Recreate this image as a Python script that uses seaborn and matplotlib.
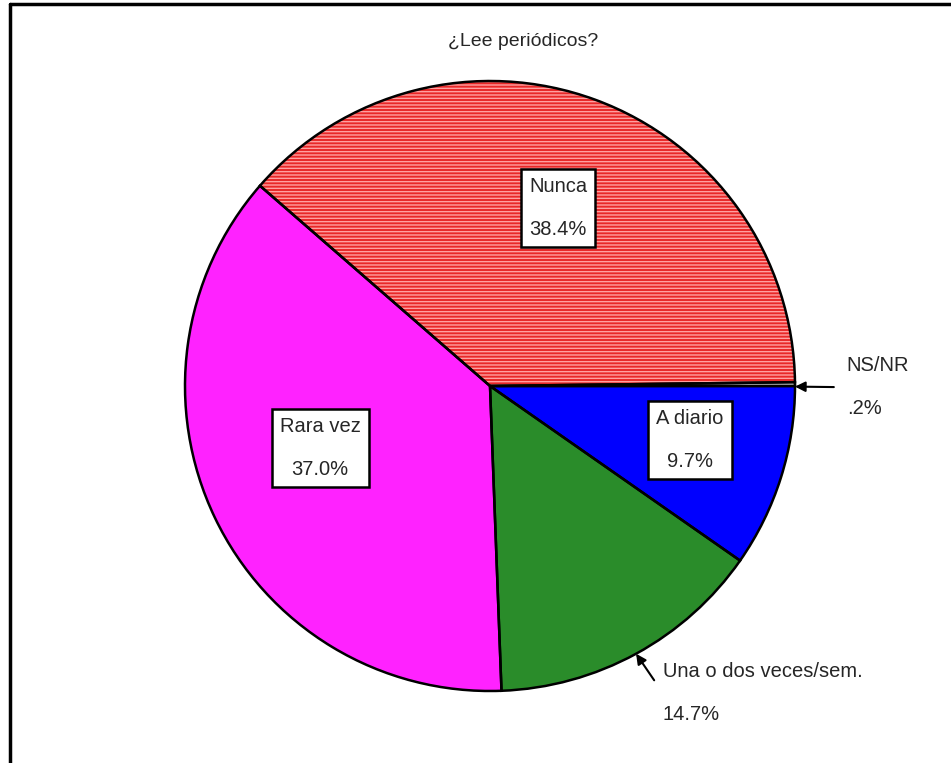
import numpy as np
import matplotlib
matplotlib.use("Agg")
import matplotlib.pyplot as plt
import seaborn as sns

categorias = ["A diario", "Una o dos veces/sem.", "Rara vez", "Nunca", "NS/NR"]
porcentajes = [9.7, 14.7, 37.0, 38.4, 0.2]
colores = ["#0000ff", "#2a8c2a", "#ff22ff", "#e82828", "#ffffff"]
titulo = "¿Lee periódicos?"

sns.set_style("white")
plt.rcParams['font.family'] = ['Liberation Sans', 'DejaVu Sans']

fig = plt.figure(figsize=(9.51, 7.63), dpi=100)
# pie centred at (490, 386) px, radius 305 px
ax = fig.add_axes([185 / 951, 72 / 763, 610 / 951, 610 / 763])

wedges, _ = ax.pie(porcentajes, colors=colores, startangle=0, counterclock=False,
                   radius=1, wedgeprops=dict(linewidth=0))
# Nunca: rayado horizontal
wedges[3].set_hatch("-----")
wedges[3].set_edgecolor("#ffa0a0")
wedges[3].set_linewidth(0)

# contornos negros
ax.pie(porcentajes, colors=["none"] * len(porcentajes), startangle=0, counterclock=False,
       radius=1, wedgeprops=dict(linewidth=1.8, edgecolor="black"))

ax.set_xlim(-1, 1)
ax.set_ylim(-1, 1)

def etiqueta(i):
    v = porcentajes[i]
    txt = f"{v:.1f}%"
    if v < 1:
        txt = txt.lstrip("0")
    return categorias[i] + "\n" + txt

def angulo_medio(w):
    return np.deg2rad((w.theta1 + w.theta2) / 2)

# etiquetas dentro de cajas
cajas = {3: (0.223, 0.584), 2: (-0.557, -0.203), 0: (0.656, -0.177)}
for i, (x, y) in cajas.items():
    ax.text(x, y, etiqueta(i), ha="center", va="center", fontsize=14.5, linespacing=2.6,
            bbox=dict(boxstyle="square,pad=0.4", facecolor="white", edgecolor="black", linewidth=1.8))

# etiquetas con flecha
flechas = {4: (1.170, -0.004), 1: (0.567, -1.007)}
for i, (x, y) in flechas.items():
    a = angulo_medio(wedges[i])
    ax.annotate(etiqueta(i), xy=(np.cos(a), min(np.sin(a), y + 0.002) if i == 4 else np.sin(a)),
                xytext=(x, y),
                ha="left", va="center", fontsize=14.5, linespacing=2.6,
                arrowprops=dict(arrowstyle="-|>", color="black", lw=1.5, mutation_scale=15,
                                relpos=(0, 0.5), shrinkA=7, shrinkB=0),
                annotation_clip=False)

fig.text(523 / 951, 1 - 41 / 763, titulo, ha="center", va="center", fontsize=14)

# marco
fig.add_artist(plt.Line2D([9.5 / 951, 9.5 / 951], [0, 1 - 3.5 / 763], color="black", lw=2.5,
                          transform=fig.transFigure))
fig.add_artist(plt.Line2D([9.5 / 951, 1], [1 - 3.5 / 763, 1 - 3.5 / 763], color="black", lw=2.5,
                          transform=fig.transFigure))

fig.savefig("out.png", dpi=100)
